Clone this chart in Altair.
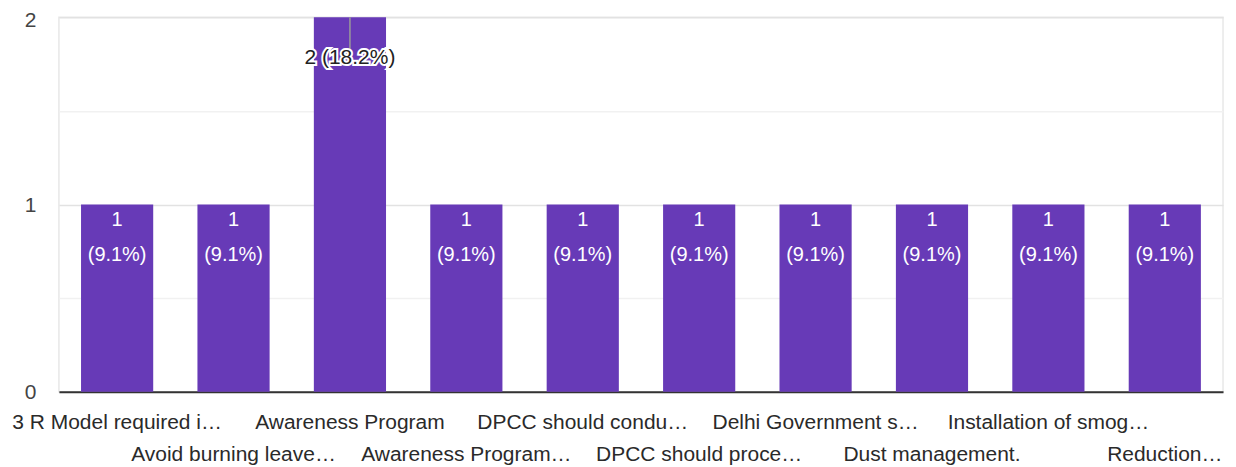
import altair as alt
import pandas as pd

categories = ["3 R Model required i…", "Avoid burning leave…", "Awareness Program",
              "Awareness Program…", "DPCC should condu…", "DPCC should proce…",
              "Delhi Government s…", "Dust management.", "Installation of smog…",
              "Reduction…"]
counts = [1, 1, 2, 1, 1, 1, 1, 1, 1, 1]
percents = ["9.1%", "9.1%", "18.2%", "9.1%", "9.1%", "9.1%", "9.1%", "9.1%", "9.1%", "9.1%"]
y_ticks = [0, 0.5, 1, 1.5, 2]
stem_from, stem_to = 2, 1.83

df = pd.DataFrame({
    "cat": categories,
    "count": counts,
    "pct": percents,
})
df["inside"] = [f"{c}\n({p})" for c, p in zip(counts, percents)]
df["outside"] = [f"{c} ({p})" for c, p in zip(counts, percents)]
maxc = max(counts)

odd = [c for i, c in enumerate(categories) if i % 2 == 1]
odd_test = "indexof(" + str(odd).replace("'", '"') + ", datum.value) >= 0"

FONT = "Liberation Sans"

x = alt.X("cat:N", sort=None, title=None, scale=alt.Scale(paddingInner=0.38, paddingOuter=0.19),
          axis=alt.Axis(labelAngle=0, ticks=False, domain=True, domainColor="#333333",
                        domainWidth=2, labelFont=FONT, labelFontSize=21, labelColor="#2a2a2a",
                        labelLimit=300, labelOverlap=False, labelBaseline="alphabetic",
                        labelPadding={"condition": {"test": odd_test, "value": 69}, "value": 37}))
y = alt.Y("count:Q", title=None,
          scale=alt.Scale(domain=[0, 2], nice=False),
          axis=alt.Axis(values=y_ticks, ticks=False, domain=False, labelFont=FONT,
                        labelFontSize=21, labelColor="#444444", labelPadding=23,
                        labelOffset={"condition": {"test": "datum.value == 2", "value": 3}, "value": 1},
                        labelOverlap=False, labelFlush=False,
                        labelExpr="datum.value % 1 == 0 ? format(datum.value, 'd') : ''",
                        gridColor={"condition": {"test": "datum.value % 1 == 0", "value": "#e2e2e2"},
                                   "value": "#f1f1f1"},
                        gridWidth=1.5))

base = alt.Chart(df)
bars = base.mark_bar(color="#673ab7").encode(x=x, y=y)

inside = base.transform_filter(f"datum.count < {maxc}").mark_text(
    color="white", font=FONT, fontSize=20, baseline="top", dy=5, lineBreak="\n", lineHeight=36
).encode(x=alt.X("cat:N", sort=None), y=alt.Y("count:Q"), text="inside:N")

stem = base.transform_filter(f"datum.count == {maxc}").transform_calculate(
    s0=f"{stem_from}", s1=f"{stem_to}"
).mark_rule(color="#999999", strokeWidth=1.5).encode(
    x=alt.X("cat:N", sort=None), y="s0:Q", y2="s1:Q")

halo = base.transform_filter(f"datum.count == {maxc}").mark_text(
    color="white", stroke="white", strokeWidth=4, font=FONT, fontSize=21, baseline="middle", dy=41
).encode(x=alt.X("cat:N", sort=None), y=alt.Y("count:Q"), text="outside:N")
outside = base.transform_filter(f"datum.count == {maxc}").mark_text(
    color="#222222", font=FONT, fontSize=21, baseline="middle", dy=41
).encode(x=alt.X("cat:N", sort=None), y=alt.Y("count:Q"), text="outside:N")

chart = alt.layer(bars, inside, stem, halo, outside).properties(
    width=1166, height=375,
    autosize=alt.AutoSizeParams(type="none"),
    padding={"left": 51, "top": 9, "right": 5, "bottom": 75},
).configure_view(stroke="#e8e8e8", strokeWidth=1.5)

chart.save("out.html", embed_options={"renderer": "svg", "actions": False})
